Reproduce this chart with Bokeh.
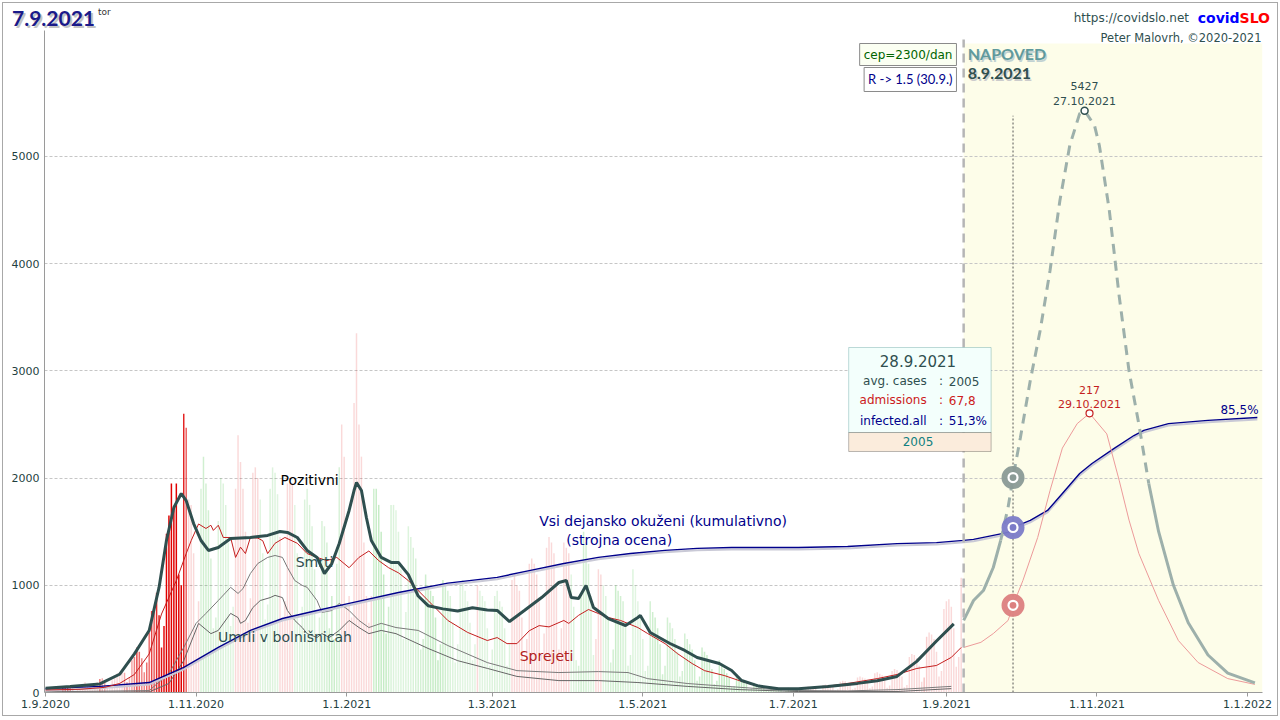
import numpy as np
import pandas as pd
from bokeh.plotting import figure
from bokeh.layouts import column
from bokeh.models import Range1d, FixedTicker, Label, BoxAnnotation, CustomJSTickFormatter, ColumnDataSource, Div
from bokeh.embed import file_html
from bokeh.resources import INLINE

# ------------------------------------------------------------------ data
report_date = "2021-09-07"
report_day = "tor"
forecast_start = "2021-09-08"
info_date = "2021-09-28"
series_start = "2020-09-01"

# daily positive cases (bars), one value per day from 1.9.2020 to 7.9.2021
cases_2020_09 = [22, 30, 41, 37, 29, 9, 21, 46, 45, 52, 58, 42, 12, 29, 47, 52, 96, 68, 65, 25,
                 66, 99, 127, 134, 92, 71, 38, 114, 161, 177]
cases_2020_10 = [190, 215, 185, 95, 140, 300, 330, 420, 380, 320, 190, 280, 560, 760, 790, 930, 720, 420,
                 620, 1480, 1650, 1950, 1700, 1950, 1100, 1000, 2600, 2470, 1800, 1750, 1300]
cases_2020_11 = [600, 850, 1900, 2200, 1950, 1700, 1250, 600, 700, 1600, 2000, 1950, 1750, 1400, 620, 800,
                 1900, 2400, 2150, 1900, 1500, 650, 880, 2050, 2100, 2000, 1800, 1300, 680, 820]
cases_2020_12 = [1900, 2100, 2050, 1850, 1450, 700, 850, 1950, 2000, 1950, 1750, 1300, 620, 800, 1800, 1900,
                 1750, 1550, 1150, 550, 700, 1600, 1550, 1400, 600, 900, 500, 1200, 2100, 2500, 2200]
cases_2021_01 = [800, 900, 700, 2700, 3350, 2500, 2200, 1400, 900, 650, 900, 1900, 1900, 1750, 1500, 1100,
                 550, 800, 1750, 1750, 1700, 1500, 1150, 500, 750, 1550, 1450, 1350, 1250, 950, 400]
cases_2021_02 = [500, 1100, 1000, 950, 900, 700, 300, 450, 1050, 1000, 950, 900, 650, 280, 450, 1000, 1050,
                 950, 850, 650, 300, 450, 1000, 950, 900, 850, 600, 250]
cases_2021_03 = [400, 900, 950, 850, 800, 600, 250, 450, 1050, 1100, 1000, 950, 700, 300, 500, 1200, 1250,
                 1200, 1100, 850, 350, 550, 1350, 1450, 1400, 1300, 1000, 400, 600, 1400, 1350]
cases_2021_04 = [1300, 1100, 800, 300, 250, 900, 1500, 1400, 1200, 900, 350, 500, 1150, 1100, 1000, 900, 700,
                 280, 400, 1000, 950, 900, 850, 650, 250, 350, 1150, 1000, 850, 700]
cases_2021_05 = [500, 200, 250, 850, 750, 700, 600, 450, 170, 250, 700, 650, 600, 500, 380, 150, 200, 550,
                 500, 450, 400, 300, 110, 150, 420, 380, 350, 300, 220, 80, 110]
cases_2021_06 = [300, 250, 220, 180, 140, 50, 60, 170, 150, 120, 100, 80, 25, 35, 90, 80, 70, 60, 45, 15,
                 20, 55, 50, 35, 30, 30, 10, 15, 45, 40]
cases_2021_07 = [35, 35, 30, 12, 15, 50, 55, 50, 45, 40, 15, 20, 70, 75, 70, 65, 55, 20, 30, 100, 110, 105,
                 95, 80, 30, 45, 140, 150, 140, 130, 100]
cases_2021_08 = [40, 55, 180, 190, 175, 160, 125, 45, 65, 200, 220, 210, 190, 150, 50, 70, 330, 360, 350,
                 320, 250, 100, 140, 520, 560, 540, 500, 380, 150, 200, 780]
cases_2021_09 = [850, 870, 800, 600, 240, 330, 1070]

# 7-day average of positive cases ("Pozitivni")
avg_dates = ["2020-09-01", "2020-09-11", "2020-09-23", "2020-10-01", "2020-10-07", "2020-10-13", "2020-10-17",
             "2020-10-20", "2020-10-23", "2020-10-26", "2020-10-28", "2020-10-31", "2020-11-03", "2020-11-06",
             "2020-11-10", "2020-11-15", "2020-11-23", "2020-11-30", "2020-12-05", "2020-12-08", "2020-12-12",
             "2020-12-16", "2020-12-20", "2020-12-23", "2020-12-26", "2020-12-29", "2021-01-02", "2021-01-04",
             "2021-01-05", "2021-01-07", "2021-01-09", "2021-01-11", "2021-01-15", "2021-01-19", "2021-01-22",
             "2021-01-26", "2021-01-30", "2021-02-03", "2021-02-09", "2021-02-15", "2021-02-21", "2021-02-27",
             "2021-03-03", "2021-03-08", "2021-03-14", "2021-03-21", "2021-03-28", "2021-03-31", "2021-04-02",
             "2021-04-05", "2021-04-08", "2021-04-11", "2021-04-17", "2021-04-24", "2021-04-29", "2021-04-30",
             "2021-05-04", "2021-05-12", "2021-05-18", "2021-05-23", "2021-06-01", "2021-06-06", "2021-06-10",
             "2021-06-17", "2021-06-25", "2021-07-03", "2021-07-15", "2021-07-27", "2021-08-04", "2021-08-12",
             "2021-08-20", "2021-08-28", "2021-09-04"]
avg_cases = [40, 55, 80, 170, 360, 578, 980, 1418, 1726, 1856, 1790, 1576, 1418, 1325, 1353, 1437, 1446,
             1465, 1502, 1493, 1446, 1325, 1260, 1110, 1203, 1390, 1698, 1884, 1959, 1884, 1632, 1418, 1260,
             1213, 1213, 1100, 900, 810, 780, 760, 790, 770, 765, 662, 765, 886, 1026, 1045, 886, 877, 998,
             793, 690, 625, 700, 718, 560, 457, 392, 327, 270, 205, 112, 60, 35, 35, 55, 85, 110, 150, 290,
             480, 640]

# hospital admissions per day ("Sprejeti")
adm_dates = ["2020-09-01", "2020-09-15", "2020-09-25", "2020-10-01", "2020-10-07", "2020-10-13", "2020-10-18",
             "2020-10-24", "2020-10-28", "2020-10-30", "2020-11-02", "2020-11-05", "2020-11-07", "2020-11-08",
             "2020-11-10", "2020-11-12", "2020-11-15", "2020-11-17", "2020-11-19", "2020-11-21", "2020-11-23",
             "2020-11-26", "2020-11-28", "2020-11-30", "2020-12-03", "2020-12-07", "2020-12-12", "2020-12-16",
             "2020-12-20", "2020-12-24", "2020-12-28", "2021-01-02", "2021-01-06", "2021-01-10", "2021-01-14",
             "2021-01-18", "2021-01-22", "2021-01-26", "2021-02-03", "2021-02-11", "2021-02-19", "2021-02-27",
             "2021-03-03", "2021-03-07", "2021-03-11", "2021-03-16", "2021-03-20", "2021-03-24", "2021-03-30",
             "2021-04-01", "2021-04-05", "2021-04-09", "2021-04-13", "2021-04-17", "2021-04-22", "2021-04-29",
             "2021-05-03", "2021-05-10", "2021-05-15", "2021-05-21", "2021-05-26", "2021-06-03", "2021-06-09",
             "2021-06-17", "2021-06-29", "2021-07-11", "2021-07-23", "2021-08-04", "2021-08-12", "2021-08-20",
             "2021-08-28", "2021-09-03", "2021-09-07"]
admissions = [2, 2.5, 4, 7, 14, 30, 61, 87, 108, 118, 131, 127.5, 130, 126, 130, 120.5, 120.5, 105, 113, 108,
              120.5, 120, 118, 108, 116, 120.5, 116, 108, 105, 102.5, 105, 97, 105, 110, 102.5, 97, 93, 87,
              71.5, 56, 46.7, 40.4, 42.7, 38, 38, 48, 52, 51, 56, 53.7, 60, 64.5, 61.4, 58.3, 56, 50.5, 45.8,
              38, 30.3, 22.5, 17, 13.2, 9.3, 4.7, 2.3, 3.9, 7, 10.8, 14, 18.7, 21, 27.3, 35]

# deaths per day ("Smrti") and deaths in hospitals ("Umrli v bolnisnicah")
death_dates = ["2020-09-01", "2020-10-13", "2020-10-21", "2020-10-27", "2020-11-01", "2020-11-05", "2020-11-10",
               "2020-11-15", "2020-11-18", "2020-11-20", "2020-11-23", "2020-11-26", "2020-11-30", "2020-12-03",
               "2020-12-06", "2020-12-08", "2020-12-11", "2020-12-14", "2020-12-16", "2020-12-20", "2020-12-22",
               "2020-12-26", "2020-12-29", "2021-01-02", "2021-01-06", "2021-01-10", "2021-01-15", "2021-01-21",
               "2021-01-30", "2021-02-11", "2021-02-27", "2021-03-11", "2021-03-28", "2021-04-13", "2021-04-25",
               "2021-05-03", "2021-05-19", "2021-06-04", "2021-06-17", "2021-07-03", "2021-07-23", "2021-08-12",
               "2021-09-03"]
deaths = [0.2, 0.6, 5.9, 14, 21.5, 24.6, 28.6, 32.7, 30.8, 32.3, 37, 40.1, 42, 42.6, 42, 38.9, 34.8, 33.3,
          32.7, 28.6, 24.9, 25.5, 27.7, 25.5, 22.4, 20.2, 21.5, 20.2, 19.3, 14.6, 9.3, 6.8, 6.2, 6.5, 6.2, 4.3,
          2.8, 1.9, 1.2, 0.6, 0.5, 0.9, 1.9]
hosp_death_dates = ["2020-09-01", "2020-10-13", "2020-10-21", "2020-10-27", "2020-11-02", "2020-11-07",
                    "2020-11-10", "2020-11-15", "2020-11-18", "2020-11-19", "2020-11-21", "2020-11-24",
                    "2020-11-27", "2020-12-01", "2020-12-03", "2020-12-06", "2020-12-08", "2020-12-11",
                    "2020-12-14", "2020-12-16", "2020-12-20", "2020-12-22", "2020-12-25", "2020-12-29",
                    "2021-01-02", "2021-01-06", "2021-01-10", "2021-01-15", "2021-01-21", "2021-02-03",
                    "2021-02-15", "2021-02-27", "2021-03-11", "2021-03-28", "2021-04-13", "2021-04-29",
                    "2021-05-19", "2021-06-09", "2021-07-03", "2021-08-12", "2021-09-03"]
hosp_deaths = [0.1, 0.2, 2.8, 9.9, 21.5, 18.3, 19.3, 24.6, 23.3, 21.5, 22.4, 26.4, 28.6, 29.5, 30.2, 29.5,
               25.5, 22.4, 20.2, 18.3, 17.1, 18.3, 17.1, 19.3, 22.4, 20.2, 18.3, 19.3, 18.3, 13.7, 9.9, 7.5, 5,
               3.7, 3.7, 3.1, 1.9, 0.9, 0.3, 0.3, 1.2]

# all actually infected, cumulative % of population (model estimate + forecast)
inf_dates = ["2020-09-01", "2020-09-23", "2020-10-13", "2020-10-27", "2020-11-10", "2020-11-23", "2020-12-06",
             "2020-12-20", "2021-01-02", "2021-01-22", "2021-02-11", "2021-03-03", "2021-03-16", "2021-03-30",
             "2021-04-13", "2021-04-26", "2021-05-10", "2021-05-23", "2021-06-06", "2021-07-03", "2021-07-23",
             "2021-08-12", "2021-08-28", "2021-09-08", "2021-09-12", "2021-09-26", "2021-09-28", "2021-10-05",
             "2021-10-12", "2021-10-18", "2021-10-25", "2021-10-30", "2021-11-08", "2021-11-16", "2021-11-20",
             "2021-11-30", "2021-12-16", "2022-01-05"]
infected_pct = [1.2, 1.9, 3.1, 7.8, 14.0, 19.3, 23.0, 25.5, 27.7, 31.1, 34.0, 35.8, 37.9, 40.1, 42.0, 43.2,
                44.2, 44.8, 45.1, 45.1, 45.4, 46.3, 46.6, 47.3, 47.6, 49.8, 51.3, 53.5, 56.6, 61.9, 68.1, 71.2,
                75.9, 79.9, 81.5, 83.6, 84.6, 85.5]

# forecast (NAPOVED) of average cases and admissions
fc_dates = ["2021-09-08", "2021-09-12", "2021-09-16", "2021-09-20", "2021-09-23", "2021-09-26", "2021-09-28",
            "2021-10-01", "2021-10-05", "2021-10-09", "2021-10-13", "2021-10-17", "2021-10-21", "2021-10-25",
            "2021-10-27", "2021-10-31", "2021-11-02", "2021-11-06", "2021-11-10", "2021-11-14", "2021-11-18",
            "2021-11-22", "2021-11-26", "2021-12-02", "2021-12-08", "2021-12-16", "2021-12-24", "2022-01-04"]
fc_cases = [672, 858, 951, 1166, 1418, 1726, 2005, 2379, 2910, 3377, 3937, 4590, 5103, 5400, 5427, 5290,
            5100, 4500, 3700, 3000, 2500, 1950, 1500, 1000, 650, 350, 180, 90]
fa_dates = ["2021-09-08", "2021-09-15", "2021-09-20", "2021-09-26", "2021-09-28", "2021-10-02", "2021-10-08",
            "2021-10-13", "2021-10-18", "2021-10-24", "2021-10-29", "2021-11-05", "2021-11-10", "2021-11-14",
            "2021-11-18", "2021-11-26", "2021-12-04", "2021-12-12", "2021-12-24", "2022-01-04"]
fc_admissions = [35, 39, 45.8, 56, 67.8, 87, 120.5, 157, 190, 209, 217, 201, 165, 134, 108, 71.5, 40.4,
                 23.3, 10.8, 6.3]
dashed_from = "2021-09-23"
dashed_to = "2021-11-22"

forecast_params = ["cep=2300/dan", "R -> 1.5 (30.9.)"]

x_tick_dates = ["2020-09-01", "2020-11-01", "2021-01-01", "2021-03-01", "2021-05-01", "2021-07-01",
                "2021-09-01", "2021-11-01", "2022-01-01"]
y_ticks = [0, 1000, 2000, 3000, 4000, 5000]

ADM_SCALE = 12      # admissions drawn x12
DEATH_SCALE = 30    # deaths drawn x30
INF_SCALE = 30      # 1 % of population = 30 units

# ------------------------------------------------------------------ helpers
DAY = 86400000.0


def ms(d):
    return pd.Timestamp(d).value / 1e6


def tx(dates):
    return [ms(d) for d in dates]


FONT = "DejaVu Sans"
SLATE = "#2f4f4f"
NAVY = "#00008b"
RED = "#c41e1e"

p = figure(width=1274, height=685, output_backend="svg", toolbar_location=None,
           x_range=Range1d(ms("2020-08-31 14:00"), ms("2022-01-07 02:00")),
           y_range=Range1d(0, 6175),
           min_border_left=41, min_border_right=15, min_border_top=0, min_border_bottom=23)
p.outline_line_color = None
p.background_fill_color = "white"
p.border_fill_color = "white"

# forecast background
p.add_layout(BoxAnnotation(left=ms(forecast_start), bottom=0, top=6054, fill_color="#fdfde9",
                           fill_alpha=1.0, line_color=None, level="image"))

# ------------------------------------------------------------------ bars
daily = (cases_2020_09 + cases_2020_10 + cases_2020_11 + cases_2020_12 + cases_2021_01 + cases_2021_02 +
         cases_2021_03 + cases_2021_04 + cases_2021_05 + cases_2021_06 + cases_2021_07 + cases_2021_08 +
         cases_2021_09)
day_x = [ms(d) for d in pd.date_range(series_start, periods=len(daily))]
s = pd.Series(daily, dtype=float)
wk = s.rolling(7, min_periods=1).sum()
ratio = (wk / wk.shift(7)).fillna(1.3)
lr = np.log(ratio.values)
colors = np.where(lr >= 0, "#e00000", "#2eb82e")
alphas = np.where(lr >= 0,
                  np.clip(0.15 + 3.0 * np.clip(lr - 0.5, 0, None), 0.15, 1.0),
                  np.clip(0.14 + 0.4 * np.abs(lr), 0.14, 0.28))
bars = ColumnDataSource(dict(x=day_x, top=daily, c=list(colors), a=list(alphas)))
p.vbar(x="x", top="top", width=0.6 * DAY, fill_color="c", fill_alpha="a", line_color=None, source=bars)

# ------------------------------------------------------------------ lines
p.line(tx(death_dates), [v * DEATH_SCALE for v in deaths], line_color="#7a7a7a", line_width=1)
p.line(tx(hosp_death_dates), [v * DEATH_SCALE for v in hosp_deaths], line_color="#666666", line_width=1)

inf_y = [v * INF_SCALE for v in infected_pct]
p.line(tx(inf_dates), [v - 18 for v in inf_y], line_color="#c9c9d6", line_width=2)
p.line(tx(inf_dates), inf_y, line_color=NAVY, line_width=1.4)

p.line(tx(adm_dates), [v * ADM_SCALE for v in admissions], line_color=RED, line_width=1)
p.line(tx(fa_dates), [v * ADM_SCALE for v in fc_admissions], line_color="#ec9a9a", line_width=1)

fc = pd.DataFrame({"d": pd.to_datetime(fc_dates), "v": fc_cases})
a = fc[fc.d <= pd.Timestamp(dashed_from)]
b = fc[(fc.d >= pd.Timestamp(dashed_from)) & (fc.d <= pd.Timestamp(dashed_to))]
c = fc[fc.d >= pd.Timestamp(dashed_to)]
FC_COL = "#9db0ab"
p.line(tx(a.d), list(a.v), line_color=FC_COL, line_width=3)
p.line(tx(b.d), list(b.v), line_color=FC_COL, line_width=3, line_dash="10 7")
p.line(tx(c.d), list(c.v), line_color=FC_COL, line_width=3)

p.line(tx(avg_dates), avg_cases, line_color=SLATE, line_width=3)

# forecast start line and info-date line
p.segment(x0=[ms(forecast_start)], y0=[0], x1=[ms(forecast_start)], y1=[6090],
          line_color="#b5b5b5", line_width=2.5, line_dash="9 6")
p.segment(x0=[ms(info_date)], y0=[0], x1=[ms(info_date)], y1=[5380],
          line_color="#555555", line_width=1, line_dash="2 2")

# markers on the info date
info_cases = fc_cases[fc_dates.index(info_date)]
info_adm = fc_admissions[fa_dates.index(info_date)]
info_inf = infected_pct[inf_dates.index(info_date)]
for yv, col in [(info_cases, "#8a9a96"), (info_inf * INF_SCALE, "#7b7bc8"), (info_adm * ADM_SCALE, "#dc8080")]:
    p.scatter([ms(info_date)], [yv], size=23, fill_color=col, line_color=None, fill_alpha=0.95)
    p.scatter([ms(info_date)], [yv], size=9, fill_color=col, line_color="white", line_width=2.2)

# peaks
pk_i = int(np.argmax(fc_cases))
pk_x, pk_y = ms(fc_dates[pk_i]), fc_cases[pk_i]
pa_i = int(np.argmax(fc_admissions))
pa_x, pa_y = ms(fa_dates[pa_i]), fc_admissions[pa_i]
p.scatter([pk_x], [pk_y], size=7, fill_color="white", line_color=SLATE, line_width=1.5)
p.scatter([pa_x], [pa_y * ADM_SCALE], size=7, fill_color="white", line_color=RED, line_width=1.2)


def fmt_date(d):
    t = pd.Timestamp(d)
    return f"{t.day}.{t.month}.{t.year}"


def lab(x, y, text, color, size=13, align="left", baseline="middle", bold=False, font=FONT, **kw):
    p.add_layout(Label(x=x, y=y, text=text, text_color=color,
                       text_font=font, text_font_size=f"{size}px", text_align=align,
                       text_baseline=baseline, text_font_style="bold" if bold else "normal", **kw))


# peak labels
lab(pk_x, 5653, str(pk_y), SLATE, 11, "center")
lab(pk_x, 5522, fmt_date(fc_dates[pk_i]), SLATE, 11, "center")
lab(pa_x, 2817, f"{pa_y:g}", RED, 11, "center")
lab(pa_x, 2687, fmt_date(fa_dates[pa_i]), RED, 11, "center")
lab(ms("2022-01-05 12:00"), 2631, f"{infected_pct[-1]:.1f}%".replace(".", ","), NAVY, 12, "right")

# series labels
lab(ms("2020-12-17"), 1978, "Pozitivni", "#000000", 14, "center")
lab(ms("2020-12-19"), 1213, "Smrti", SLATE, 14, "center")
lab(ms("2020-12-07"), 522, "Umrli v bolnišnicah", SLATE, 14, "center")
lab(ms("2021-03-23"), 336, "Sprejeti", "#b22222", 14, "center")
lab(ms("2021-03-20"), 1604, "Vsi dejansko okuženi (kumulativno)", NAVY, 14)
lab(ms("2021-03-31"), 1418, "(strojna ocena)", NAVY, 14)

# forecast header
nx = ms("2021-09-09 16:00")
lab(nx + 0.5 * DAY, 5961 - 15, "NAPOVED", "#c2d2d2", 16, bold=True, font="Lato")
lab(nx, 5961, "NAPOVED", "#5f9a9c", 16, bold=True, font="Lato")
lab(nx + 0.5 * DAY, 5774 - 15, fmt_date(forecast_start), "#cccccc", 16, bold=True, font="Lato")
lab(nx, 5774, fmt_date(forecast_start), SLATE, 16, bold=True, font="Lato")
lab(ms("2021-09-05 02:00"), 5951, forecast_params[0], "#006400", 12, "right",
    background_fill_color="#fbfff2", border_line_color="#8a8a8a", padding=4)
lab(ms("2021-09-05 02:00"), 5718, forecast_params[1], NAVY, 13, "right", font="Lato",
    background_fill_color="#ffffff", border_line_color="#8a8a8a", padding=4)

# credits line inside the frame
lab(ms("2022-01-06 16:00"), 6105, "Peter Malovrh, ©2020-2021", SLATE, 11.5, "right")

# info box
bl, br = ms("2021-07-23 10:00"), ms("2021-09-19 03:00")
p.add_layout(BoxAnnotation(left=bl, right=br, bottom=2425, top=3218,
                           fill_color="#f3fffc", fill_alpha=1.0, line_color="#2a8080", line_width=1))
p.add_layout(BoxAnnotation(left=bl, right=br, bottom=2248, top=2425,
                           fill_color="#fbecdc", fill_alpha=1.0, line_color="#222222", line_width=1))
bx_c = ms("2021-08-20 12:00")
lab(bx_c, 3088, fmt_date(info_date), SLATE, 15, "center")
rows = [("avg. cases", f"{info_cases}", SLATE, 2901),
        ("admissions", f"{info_adm:.1f}".replace(".", ","), "#cc2020", 2724),
        ("infected.all", f"{info_inf:.1f}%".replace(".", ","), NAVY, 2537)]
for name, val, col, yy in rows:
    lab(ms("2021-08-24"), yy, name, col, 12, "right")
    lab(ms("2021-08-29 20:00"), yy, ":", col, 12, "center")
    lab(ms("2021-09-02"), yy, val, col, 12)
lab(bx_c, 2341, f"{info_cases}", "#108080", 12, "center")

# ------------------------------------------------------------------ axes
p.xgrid.visible = False
p.ygrid.ticker = FixedTicker(ticks=y_ticks)
p.ygrid.grid_line_color = "#c6c6c6"
p.ygrid.grid_line_dash = "3 2"

p.xaxis.ticker = FixedTicker(ticks=tx(x_tick_dates))
p.xaxis.formatter = CustomJSTickFormatter(
    code="const d = new Date(tick); return d.getUTCDate() + '.' + (d.getUTCMonth() + 1) + '.' + d.getUTCFullYear();")
p.yaxis.ticker = FixedTicker(ticks=y_ticks)
for ax in (p.xaxis, p.yaxis):
    ax.axis_line_color = "#9a9a9a"
    ax.major_tick_line_color = "#9a9a9a"
    ax.minor_tick_line_color = None
    ax.major_label_text_color = "#1f3f3f"
    ax.major_label_text_font = FONT
    ax.major_label_text_font_size = "11px"
p.xaxis.major_tick_in = 0
p.xaxis.major_tick_out = 4
p.xaxis.major_label_standoff = 3
p.yaxis.major_tick_in = 0
p.yaxis.major_tick_out = 0
p.yaxis.major_label_standoff = 5

# ------------------------------------------------------------------ header (title + credits)
header_html = (
    '<div style="position:relative;width:1274px;height:27px;font-family:\'DejaVu Sans\';">'
    f'<span style="position:absolute;left:9px;top:0px;font-family:Lato;font-weight:bold;font-size:21px;'
    f'color:#1a1a8a;text-shadow:2px 2px 0 #c4c4c4;white-space:nowrap;">{fmt_date(report_date)}</span>'
    f'<span style="position:absolute;left:95px;top:3px;font-size:9px;color:#333;">{report_day}</span>'
    '<span style="position:absolute;right:88px;top:7px;font-size:12px;color:#2f4f4f;white-space:nowrap;">'
    'https://covidslo.net</span>'
    '<span style="position:absolute;right:7px;top:5px;font-size:14px;font-weight:bold;white-space:nowrap;">'
    '<span style="color:#0000ff;">covid</span><span style="color:#ff0000;">SLO</span></span>'
    '</div>'
)
header = Div(text=header_html, width=1274, height=27, styles={"margin": "0", "padding": "0"})

layout = column(header, p, styles={"margin": "2px", "border": "1px solid #a8a8a8"})

open("out.html", "w").write(file_html(layout, INLINE))
